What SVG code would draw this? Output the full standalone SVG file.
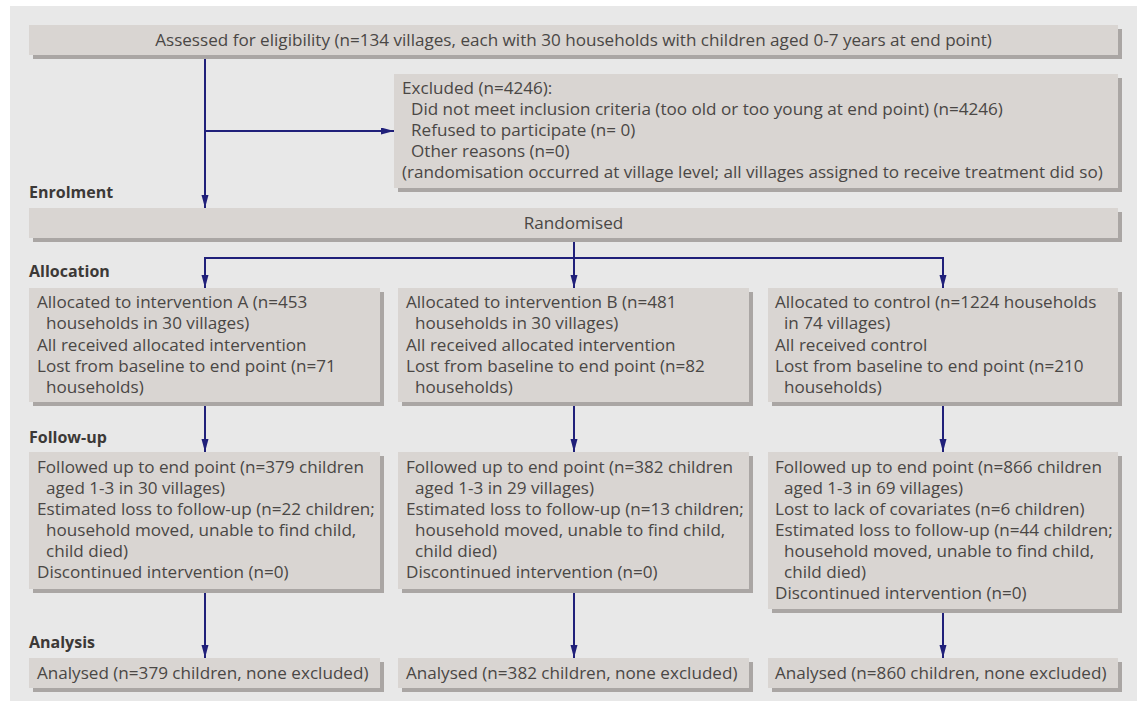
<svg xmlns="http://www.w3.org/2000/svg" width="1139" height="701" viewBox="0 0 1139 701">
<style>
.bg{fill:#e8e8e8}
.box{fill:#d9d5d2}
.sh{fill:#aaa6a4}
.t{font-family:"Open Sans","Noto Sans","DejaVu Sans",sans-serif;font-size:17.1px;fill:#4a4745}
.c{text-anchor:middle}
.lbl{font-family:"Open Sans","Noto Sans","DejaVu Sans",sans-serif;font-size:16px;font-weight:bold;fill:#3c3937}
.ln{stroke:#20207a;stroke-width:2;fill:none}
.ar{marker-end:url(#ah)}
</style>
<defs>
<marker id="ah" markerUnits="userSpaceOnUse" markerWidth="14" markerHeight="8" refX="13" refY="3.5" orient="auto">
<path d="M0,0 L13,3.5 L0,7 z" fill="#20207a"/>
</marker>
</defs>
<rect x="0" y="0" width="1139" height="701" fill="#ffffff"/>
<rect class="bg" x="10" y="6" width="1127" height="695"/>

<g id="labels">
<text class="lbl" x="29" y="198">Enrolment</text>
<text class="lbl" x="29" y="277">Allocation</text>
<text class="lbl" x="29" y="443">Follow-up</text>
<text class="lbl" x="29" y="648">Analysis</text>
</g>

<g id="connectors">
<line class="ln ar" x1="205" y1="55" x2="205" y2="208"/>
<line class="ln ar" x1="205" y1="131" x2="394" y2="131"/>
<polyline class="ln" points="574,238 574,258"/>
<polyline class="ln" points="205,258 943,258"/>
<line class="ln ar" x1="205" y1="257" x2="205" y2="288"/>
<line class="ln ar" x1="574" y1="257" x2="574" y2="288"/>
<line class="ln ar" x1="943" y1="257" x2="943" y2="288"/>
<line class="ln ar" x1="205" y1="402" x2="205" y2="452"/>
<line class="ln ar" x1="574" y1="402" x2="574" y2="452"/>
<line class="ln ar" x1="943" y1="402" x2="943" y2="452"/>
<line class="ln ar" x1="205" y1="589" x2="205" y2="658"/>
<line class="ln ar" x1="574" y1="589" x2="574" y2="658"/>
<line class="ln ar" x1="943" y1="609" x2="943" y2="658"/>
</g>

<g id="assessed">
<rect class="sh" x="33" y="29" width="1089" height="30"/>
<rect class="box" x="29" y="25" width="1089" height="30"/>
<text class="t c" x="573.5" y="46">Assessed for eligibility (n=134 villages, each with 30 households with children aged 0-7 years at end point)</text>
</g>

<g id="excluded">
<rect class="sh" x="398" y="78" width="724" height="114"/>
<rect class="box" x="394" y="74" width="724" height="114"/>
<text class="t" x="402" y="94">Excluded (n=4246):</text>
<text class="t" x="411" y="115">Did not meet inclusion criteria (too old or too young at end point) (n=4246)</text>
<text class="t" x="411" y="136">Refused to participate (n= 0)</text>
<text class="t" x="411" y="157">Other reasons (n=0)</text>
<text class="t" x="402" y="178">(randomisation occurred at village level; all villages assigned to receive treatment did so)</text>
</g>

<g id="randomised">
<rect class="sh" x="33" y="212" width="1089" height="30"/>
<rect class="box" x="29" y="208" width="1089" height="30"/>
<text class="t c" x="573.5" y="229">Randomised</text>
</g>

<g id="allocA">
<rect class="sh" x="33" y="292" width="351" height="114"/>
<rect class="box" x="29" y="288" width="351" height="114"/>
<text class="t" x="37" y="308">Allocated to intervention A (n=453</text>
<text class="t" x="46" y="329.3">households in 30 villages)</text>
<text class="t" x="37" y="350.6">All received allocated intervention</text>
<text class="t" x="37" y="371.9">Lost from baseline to end point (n=71</text>
<text class="t" x="46" y="393.2">households)</text>
</g>

<g id="allocB">
<rect class="sh" x="402" y="292" width="351" height="114"/>
<rect class="box" x="398" y="288" width="351" height="114"/>
<text class="t" x="406" y="308">Allocated to intervention B (n=481</text>
<text class="t" x="415" y="329.3">households in 30 villages)</text>
<text class="t" x="406" y="350.6">All received allocated intervention</text>
<text class="t" x="406" y="371.9">Lost from baseline to end point (n=82</text>
<text class="t" x="415" y="393.2">households)</text>
</g>

<g id="allocC">
<rect class="sh" x="772" y="292" width="350" height="114"/>
<rect class="box" x="768" y="288" width="350" height="114"/>
<text class="t" x="775" y="308">Allocated to control (n=1224 households</text>
<text class="t" x="784" y="329.3">in 74 villages)</text>
<text class="t" x="775" y="350.6">All received control</text>
<text class="t" x="775" y="371.9">Lost from baseline to end point (n=210</text>
<text class="t" x="784" y="393.2">households)</text>
</g>

<g id="followA">
<rect class="sh" x="33" y="456" width="351" height="137"/>
<rect class="box" x="29" y="452" width="351" height="137"/>
<text class="t" x="37" y="473">Followed up to end point (n=379 children</text>
<text class="t" x="46" y="494">aged 1-3 in 30 villages)</text>
<text class="t" x="37" y="515">Estimated loss to follow-up (n=22 children;</text>
<text class="t" x="46" y="536">household moved, unable to find child,</text>
<text class="t" x="46" y="557">child died)</text>
<text class="t" x="37" y="578">Discontinued intervention (n=0)</text>
</g>

<g id="followB">
<rect class="sh" x="402" y="456" width="351" height="137"/>
<rect class="box" x="398" y="452" width="351" height="137"/>
<text class="t" x="406" y="473">Followed up to end point (n=382 children</text>
<text class="t" x="415" y="494">aged 1-3 in 29 villages)</text>
<text class="t" x="406" y="515">Estimated loss to follow-up (n=13 children;</text>
<text class="t" x="415" y="536">household moved, unable to find child,</text>
<text class="t" x="415" y="557">child died)</text>
<text class="t" x="406" y="578">Discontinued intervention (n=0)</text>
</g>

<g id="followC">
<rect class="sh" x="772" y="456" width="350" height="157"/>
<rect class="box" x="768" y="452" width="350" height="157"/>
<text class="t" x="775" y="473">Followed up to end point (n=866 children</text>
<text class="t" x="784" y="494">aged 1-3 in 69 villages)</text>
<text class="t" x="775" y="515">Lost to lack of covariates (n=6 children)</text>
<text class="t" x="775" y="536">Estimated loss to follow-up (n=44 children;</text>
<text class="t" x="784" y="557">household moved, unable to find child,</text>
<text class="t" x="784" y="578">child died)</text>
<text class="t" x="775" y="599">Discontinued intervention (n=0)</text>
</g>

<g id="analysisA">
<rect class="sh" x="33" y="662" width="351" height="30"/>
<rect class="box" x="29" y="658" width="351" height="30"/>
<text class="t" x="37" y="679">Analysed (n=379 children, none excluded)</text>
</g>

<g id="analysisB">
<rect class="sh" x="402" y="662" width="351" height="30"/>
<rect class="box" x="398" y="658" width="351" height="30"/>
<text class="t" x="406" y="679">Analysed (n=382 children, none excluded)</text>
</g>

<g id="analysisC">
<rect class="sh" x="772" y="662" width="350" height="30"/>
<rect class="box" x="768" y="658" width="350" height="30"/>
<text class="t" x="775" y="679">Analysed (n=860 children, none excluded)</text>
</g>
</svg>
